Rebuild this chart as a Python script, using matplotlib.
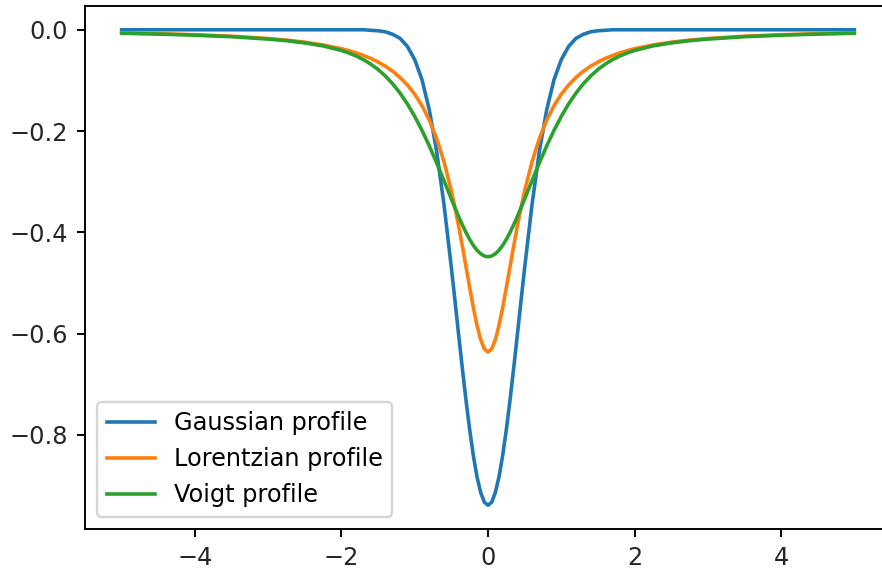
import matplotlib
matplotlib.use("Agg")
import matplotlib.pyplot as plt

# sample positions (denser near the line centre)
x = [-5, -4.5, -4, -3.5, -3, -2.75, -2.5, -2.25, -2, -1.9, -1.8, -1.7, -1.6,
     -1.5, -1.4, -1.3, -1.2, -1.1, -1.0, -0.9, -0.8, -0.7, -0.6,
     -0.5, -0.45, -0.4, -0.35, -0.3, -0.25, -0.2, -0.15, -0.1, -0.05,
     0,
     0.05, 0.1, 0.15, 0.2, 0.25, 0.3, 0.35, 0.4, 0.45, 0.5,
     0.6, 0.7, 0.8, 0.9, 1.0, 1.1, 1.2, 1.3, 1.4, 1.5,
     1.6, 1.7, 1.8, 1.9, 2, 2.25, 2.5, 2.75, 3, 3.5, 4, 4.5, 5]

gaussian = [0.0, 0.0, 0.0, 0.0, 0.0, 0.0, 0.0, 0.0, 0.0, 0.0, 0.0, 0.0, -0.001,
            -0.002, -0.004, -0.009, -0.017, -0.033, -0.059, -0.099, -0.159, -0.241, -0.346,
            -0.470, -0.536, -0.603, -0.669, -0.732, -0.790, -0.841, -0.883, -0.914, -0.933,
            -0.939,
            -0.933, -0.914, -0.883, -0.841, -0.790, -0.732, -0.669, -0.603, -0.536, -0.470,
            -0.346, -0.241, -0.159, -0.099, -0.059, -0.033, -0.017, -0.009, -0.004, -0.002,
            -0.001, 0.0, 0.0, 0.0, 0.0, 0.0, 0.0, 0.0, 0.0, 0.0, 0.0, 0.0, 0.0]

lorentzian = [-0.0063, -0.0078, -0.0098, -0.0127, -0.0172, -0.0204, -0.0245, -0.0300, -0.0374,
              -0.0412, -0.0456, -0.0507, -0.0566,
              -0.0637, -0.0720, -0.0820, -0.0942, -0.1090, -0.1273, -0.1501, -0.1788, -0.2151, -0.2609,
              -0.3183, -0.3517, -0.3882, -0.4273, -0.4681, -0.5093, -0.5488, -0.5840, -0.6121, -0.6303,
              -0.6366,
              -0.6303, -0.6121, -0.5840, -0.5488, -0.5093, -0.4681, -0.4273, -0.3882, -0.3517, -0.3183,
              -0.2609, -0.2151, -0.1788, -0.1501, -0.1273, -0.1090, -0.0942, -0.0820, -0.0720, -0.0637,
              -0.0566, -0.0507, -0.0456, -0.0412,
              -0.0374, -0.0300, -0.0245, -0.0204, -0.0172, -0.0127, -0.0098, -0.0078, -0.0063]

voigt = [-0.0069, -0.0085, -0.0107, -0.0137, -0.0184, -0.0216, -0.0260, -0.0319, -0.0409,
         -0.0458, -0.0518, -0.0590, -0.0678,
         -0.0785, -0.0914, -0.1069, -0.1252, -0.1465, -0.1711, -0.1989, -0.2297, -0.2631, -0.2983,
         -0.3342, -0.3518, -0.3690, -0.3853, -0.4004, -0.4141, -0.4258, -0.4354, -0.4425, -0.4468,
         -0.4483,
         -0.4468, -0.4425, -0.4354, -0.4258, -0.4141, -0.4004, -0.3853, -0.3690, -0.3518, -0.3342,
         -0.2983, -0.2631, -0.2297, -0.1989, -0.1711, -0.1465, -0.1252, -0.1069, -0.0914, -0.0785,
         -0.0678, -0.0590, -0.0518, -0.0458,
         -0.0409, -0.0319, -0.0260, -0.0216, -0.0184, -0.0137, -0.0107, -0.0085, -0.0069]

dpi = 173
fig = plt.figure(figsize=(882 / dpi, 572 / dpi), dpi=dpi)
# axes runs slightly past the right edge, like the cropped original
ax = fig.add_axes([85 / 882, 43 / 572, 806 / 882, 523 / 572])

ax.plot(x, gaussian, label='Gaussian profile', lw=1.5)
ax.plot(x, lorentzian, label='Lorentzian profile', lw=1.5)
ax.plot(x, voigt, label='Voigt profile', lw=1.5)
ax.set_xticks([-4, -2, 0, 2, 4])
ax.tick_params(labelcolor='#262626')
ax.legend(loc='lower left')

fig.savefig('out.png', dpi=dpi)
